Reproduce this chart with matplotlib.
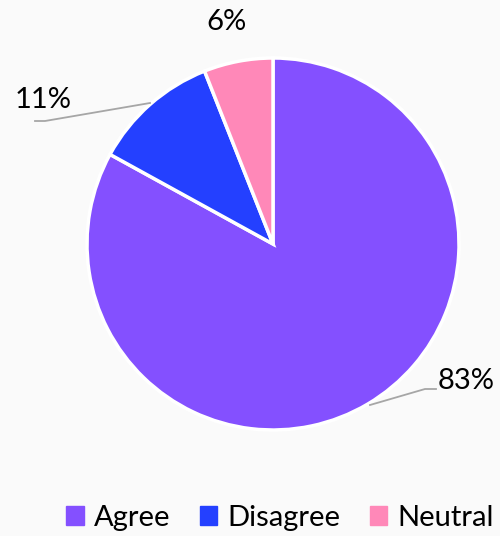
import matplotlib.pyplot as plt
import numpy as np

labels = ['Agree', 'Disagree', 'Neutral']
values = [83, 11, 6]
colors = ['#8450FF', '#2440FF', '#FF88B8']

W, H = 500, 536
fig = plt.figure(figsize=(W / 100, H / 100), dpi=100, facecolor='#FAFAFA')
ax = fig.add_axes([0, 0, 1, 1])

cx, cy, r = 273, H - 244, 186
wedges, _ = ax.pie(values, colors=colors, startangle=90, counterclock=False,
                   center=(cx, cy), radius=r, frame=True,
                   wedgeprops=dict(edgecolor='white', linewidth=2.5))
ax.set_xlim(0, W)
ax.set_ylim(0, H)
ax.set_aspect('equal')
ax.axis('off')

font = 'Lato'
fs = 21

# label placement (text position, leader line points) in pixel coords
label_pos = {
    'Agree': dict(text=(466, 381), pts=[(370, 405), (425, 389), (436, 389)]),
    'Disagree': dict(text=(43, 100), pts=[(150, 103), (45, 121), (35, 121)]),
    'Neutral': dict(text=(226, 22), pts=None),
}
for lab, v in zip(labels, values):
    p = label_pos[lab]
    if p['pts']:
        xs = [q[0] for q in p['pts']]
        ys = [H - q[1] for q in p['pts']]
        ax.plot(xs, ys, color='#A6A6A6', lw=1.3)
    ax.text(p['text'][0], H - p['text'][1], f'{v}%', ha='center', va='center',
            fontsize=fs, family=font, color='black')

handles = [plt.Rectangle((0, 0), 1, 1, color=c) for c in colors]
fig.legend(handles, labels, loc='center', bbox_to_anchor=(0.56, 1 - 518 / H),
           ncol=3, frameon=False, prop=dict(family=font, size=fs),
           handlelength=0.6, handleheight=0.6, handletextpad=0.35,
           columnspacing=1.0)

fig.savefig('out.png', dpi=100, facecolor=fig.get_facecolor())
